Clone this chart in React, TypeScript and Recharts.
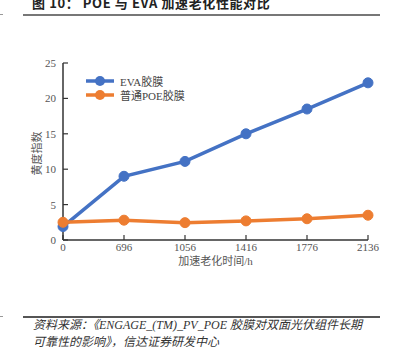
import React from 'react';
import { LineChart, Line, XAxis, YAxis, Legend } from 'recharts';

const hours = ['0', '696', '1056', '1416', '1776', '2136'];
const evaValues = [1.9, 9.0, 11.1, 15.0, 18.5, 22.2];
const poeValues = [2.5, 2.8, 2.45, 2.7, 3.0, 3.5];
const yTicks = [0, 5, 10, 15, 20, 25];
const seriesNames = ['EVA胶膜', '普通POE胶膜'];
const yTitle = '黄度指数';
const xTitle = '加速老化时间/h';

const data = hours.map((h, i) => ({ h, eva: evaValues[i], poe: poeValues[i] }));

const BLUE = '#4472C4';
const ORANGE = '#ED7D31';
const serif = '"Liberation Serif", "Noto Sans CJK SC", serif';

const LegendContent = () => (
  <div style={{ fontFamily: serif, fontSize: 11, color: '#444' }}>
    {[BLUE, ORANGE].map((c, i) => (
      <div key={i} style={{ display: 'flex', alignItems: 'center', height: 14 }}>
        <svg width={30} height={12} style={{ marginRight: 5 }}>
          <line x1={1} y1={6} x2={29} y2={6} stroke={c} strokeWidth={3.5} />
          <circle cx={15} cy={6} r={5} fill={c} />
        </svg>
        <span>{seriesNames[i]}</span>
      </div>
    ))}
  </div>
);

const YLabel = (props: any) => {
  const vb = props.viewBox || {};
  const cx = 37;
  const cy = (vb.y || 0) + (vb.height || 0) / 2 + 2;
  return (
    <text x={cx} y={cy} transform={`rotate(-90 ${cx} ${cy})`} textAnchor="middle" dominantBaseline="central" fill="#555" fontSize={11} fontFamily={serif}>
      {yTitle}
    </text>
  );
};

export default function App() {
  return (
    <div style={{ position: 'absolute', left: 0, top: 0, width: 401, height: 353, background: '#fff' }}>
      <div style={{ position: 'absolute', left: 32, top: -5, fontFamily: '"Noto Sans CJK SC", sans-serif', fontWeight: 700, fontSize: 13, color: '#222', whiteSpace: 'nowrap', lineHeight: '16px', letterSpacing: 0.6 }}>
        图 10： POE 与 EVA 加速老化性能对比
      </div>
      <div style={{ position: 'absolute', left: 23, top: 14, width: 357, height: 1.5, background: '#777' }} />
      <div style={{ position: 'absolute', left: 0, top: 14, width: 3, height: 1, background: '#999' }} />
      <LineChart width={401} height={353} data={data} margin={{ top: 63, right: 33, left: 0, bottom: 83 }}>
        <XAxis
          dataKey="h"
          axisLine={{ stroke: '#333', strokeWidth: 1.5 }}
          tickLine={{ stroke: '#333', strokeWidth: 1.2 }}
          tickSize={-5}
          tickMargin={8}
          height={30}
          tick={{ fill: '#555', fontSize: 11, fontFamily: serif }}
          interval={0}
          label={{ value: xTitle, position: 'insideBottom', offset: 5, fill: '#555', fontSize: 11, fontFamily: serif }}
        />
        <YAxis
          domain={[0, 25]}
          ticks={yTicks}
          width={63}
          axisLine={{ stroke: '#333', strokeWidth: 1.5 }}
          tickLine={{ stroke: '#333', strokeWidth: 1.2 }}
          tickSize={-5}
          tickMargin={12}
          tick={{ fill: '#555', fontSize: 11, fontFamily: serif }}
          label={<YLabel />}
        />
        <Legend
          content={<LegendContent />}
          layout="vertical"
          verticalAlign="middle"
          align="center"
          wrapperStyle={{ left: 85, top: 74, width: 140 }}
        />
        <Line dataKey="eva" name={seriesNames[0]} stroke={BLUE} strokeWidth={3.5} dot={{ r: 5, fill: BLUE, stroke: BLUE, strokeWidth: 1 }} isAnimationActive={false} />
        <Line dataKey="poe" name={seriesNames[1]} stroke={ORANGE} strokeWidth={3.5} dot={{ r: 5, fill: ORANGE, stroke: ORANGE, strokeWidth: 1 }} isAnimationActive={false} />
      </LineChart>
      <div style={{ position: 'absolute', left: 23, top: 316, width: 357, height: 1.5, background: '#555' }} />
      <div style={{ position: 'absolute', left: 0, top: 316, width: 3, height: 1, background: '#999' }} />
      <div style={{ position: 'absolute', left: 33, top: 317, width: 360, fontFamily: serif, fontStyle: 'italic', fontSize: 12, color: '#333', lineHeight: '17px', whiteSpace: 'nowrap' }}>
        <div>资料来源：《ENGAGE_(TM)_PV_POE 胶膜对双面光伏组件长期</div>
        <div>可靠性的影响》，信达证券研发中心</div>
      </div>
    </div>
  );
}
